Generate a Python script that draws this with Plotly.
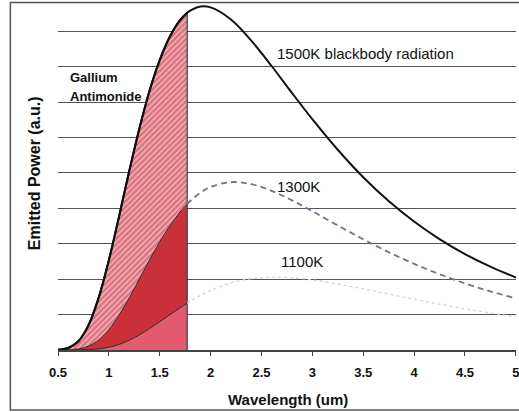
import plotly.graph_objects as go

# Wavelength samples (um) and emitted power (a.u., grid units)
wavelength = [0.5, 0.6, 0.7, 0.8, 0.9, 1.0, 1.1, 1.2, 1.3, 1.4, 1.5, 1.6, 1.7, 1.77, 1.8,
              1.9, 2.0, 2.2, 2.4, 2.6, 2.8, 3.0, 3.25, 3.5, 3.75, 4.0, 4.25, 4.5, 4.75, 5.0]
p1500 = [0.006, 0.055, 0.248, 0.704, 1.480, 2.538, 3.769, 5.048, 6.258, 7.322, 8.186, 8.852,
         9.315, 9.524, 9.585, 9.702, 9.676, 9.334, 8.736, 8.021, 7.259, 6.519, 5.655, 4.879,
         4.208, 3.629, 3.133, 2.710, 2.354, 2.048]
p1300 = [0.0003, 0.005, 0.030, 0.111, 0.287, 0.580, 0.985, 1.475, 2.009, 2.548, 3.057, 3.512,
         3.898, 4.126, 4.209, 4.445, 4.605, 4.742, 4.683, 4.495, 4.227, 3.921, 3.518, 3.128,
         2.765, 2.434, 2.141, 1.881, 1.657, 1.460]
p1100 = [0.0, 0.0002, 0.002, 0.009, 0.031, 0.078, 0.158, 0.276, 0.427, 0.605, 0.799, 0.998,
         1.193, 1.322, 1.374, 1.539, 1.680, 1.894, 2.014, 2.057, 2.041, 1.979, 1.864, 1.727,
         1.580, 1.434, 1.294, 1.164, 1.045, 0.938]
gasb_cutoff = 1.77  # um, Gallium Antimonide band edge
x_ticks = [0.5, 1, 1.5, 2, 2.5, 3, 3.5, 4, 4.5, 5]
x_ticklabels = ["0.5", "1", "1.5", "2", "2.5", "3", "3.5", "4", "4.5", "5"]
grid_levels = [1, 2, 3, 4, 5, 6, 7, 8, 9]

FONT = "Arial, Liberation Sans, Helvetica, sans-serif"
n_cut = wavelength.index(gasb_cutoff) + 1
wl_in = wavelength[:n_cut]
wl_out = wavelength[n_cut - 1:]

fig = go.Figure()

# bottom region (under 1100K)
fig.add_trace(go.Scatter(x=wl_in, y=p1100[:n_cut], mode="lines", line=dict(color="#2a2a2a", width=1, shape="spline"),
                         fill="tozeroy", fillcolor="#E35A6E", hoverinfo="skip"))
# middle region (1100K -> 1300K)
fig.add_trace(go.Scatter(x=wl_in, y=p1300[:n_cut], mode="lines", line=dict(color="#2a2a2a", width=1, shape="spline"),
                         fill="tonexty", fillcolor="#C9303A", hoverinfo="skip"))
# hatched region (1300K -> 1500K)
fig.add_trace(go.Scatter(x=wl_in, y=p1500[:n_cut], mode="lines", line=dict(color="#111111", width=2, shape="spline"),
                         fill="tonexty", fillcolor="#EBA3AA",
                         fillpattern=dict(shape="/", fgcolor="#C92C3C", bgcolor="#F0B4BA", size=4, solidity=0.62),
                         hoverinfo="skip"))
# vertical cut-off edge
fig.add_trace(go.Scatter(x=[gasb_cutoff, gasb_cutoff], y=[0, p1500[n_cut - 1]], mode="lines",
                         line=dict(color="#3a3a5c", width=1.2), hoverinfo="skip"))
# 1100K dotted beyond cutoff
fig.add_trace(go.Scatter(x=wl_out, y=p1100[n_cut - 1:], mode="lines",
                         line=dict(color="#d4d4d4", width=1.3, dash="dot", shape="spline"), hoverinfo="skip"))
# 1300K dashed beyond cutoff
fig.add_trace(go.Scatter(x=wl_out, y=p1300[n_cut - 1:], mode="lines",
                         line=dict(color="#6C7499", width=1.8, dash="6px,4px", shape="spline"), hoverinfo="skip"))
# 1500K full curve
fig.add_trace(go.Scatter(x=wavelength, y=p1500, mode="lines",
                         line=dict(color="#111111", width=2, shape="spline"), hoverinfo="skip"))

ann = [
    dict(x=0.598, y=7.70, text="<b>Gallium</b>", xanchor="left", yanchor="middle", font=dict(size=13)),
    dict(x=0.598, y=7.15, text="<b>Antimonide</b>", xanchor="left", yanchor="middle", font=dict(size=13)),
    dict(x=2.63, y=8.38, text="1500K blackbody radiation", xanchor="left", yanchor="middle", font=dict(size=15)),
    dict(x=2.63, y=4.62, text="1300K", xanchor="left", yanchor="middle", font=dict(size=15)),
    dict(x=2.67, y=2.49, text="1100K", xanchor="left", yanchor="middle", font=dict(size=15)),
]
for a in ann:
    a.update(xref="x", yref="y", showarrow=False)
    a["font"].update(family=FONT, color="#111111")
ann.append(dict(x=0.503, y=-0.144, xref="paper", yref="paper", text="<b>Wavelength (um)</b>", showarrow=False,
                xanchor="center", yanchor="middle", font=dict(family=FONT, size=15, color="#111111")))
ann.append(dict(x=-0.052, y=0.51, xref="paper", yref="paper", text="<b>Emitted Power (a.u.)</b>", showarrow=False,
                textangle=-90, xanchor="center", yanchor="middle", font=dict(family=FONT, size=16, color="#111111")))

fig.update_layout(
    width=519, height=412,
    margin=dict(l=58, r=0, t=3, b=62),
    paper_bgcolor="white", plot_bgcolor="white",
    showlegend=False,
    font=dict(family=FONT, color="#111111"),
    annotations=ann,
    shapes=[dict(type="rect", xref="paper", yref="paper", x0=-0.104, x1=1.05, y0=-0.173, y1=1.0014,
                 line=dict(color="#555555", width=1.5), fillcolor="rgba(0,0,0,0)", layer="above")],
)
fig.update_xaxes(range=[0.5, 5.002], tickvals=x_ticks, ticktext=x_ticklabels, ticks="outside", ticklen=4,
                 tickcolor="#444", tickwidth=1.2, showline=True, linecolor="#444", linewidth=1.5,
                 showgrid=False, zeroline=False, ticklabelstandoff=6, ticklabeloverflow="allow",
                 tickfont=dict(family=FONT, size=13, color="#111111", weight="bold"))
fig.update_yaxes(range=[0, 9.8], tickvals=grid_levels, showticklabels=False, showgrid=True,
                 gridcolor="#555555", gridwidth=1.3, zeroline=False, showline=False, ticks="")

fig.write_html("out.html")
